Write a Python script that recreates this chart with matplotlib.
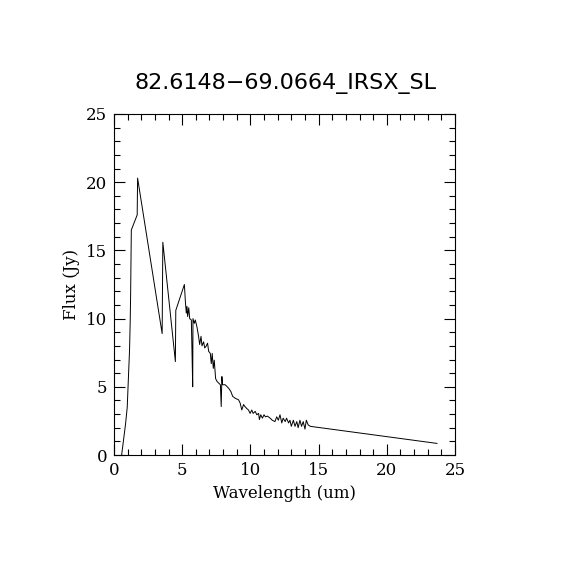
import matplotlib
matplotlib.use("Agg")
import matplotlib.pyplot as plt
from matplotlib.ticker import MultipleLocator

# Spectrum
wavelength = [0.56, 0.85, 0.97, 1.05, 1.14, 1.19, 1.22, 1.27, 1.70, 1.73, 3.53, 3.58,
              4.50, 4.53, 5.16, 5.23, 5.30, 5.35, 5.40, 5.48, 5.55, 5.67, 5.72, 5.77,
              5.79, 5.89, 5.96, 6.08, 6.20, 6.28, 6.38, 6.45, 6.57, 6.65, 6.74, 6.86,
              6.94, 7.06, 7.13, 7.20, 7.28, 7.35, 7.45, 7.55, 7.70, 7.80, 7.86, 7.91,
              7.96, 8.15, 8.40, 8.57, 8.70, 8.90, 9.13, 9.25, 9.37, 9.50, 9.60, 9.74,
              9.86, 9.98, 10.10, 10.20, 10.35, 10.47, 10.60, 10.66, 10.76, 10.88, 11.00,
              11.10, 11.25, 11.45, 11.60, 11.80, 11.93, 12.05, 12.17, 12.30, 12.40,
              12.55, 12.65, 12.80, 12.90, 13.00, 13.15, 13.27, 13.40, 13.50, 13.63,
              13.75, 13.87, 14.00, 14.10, 14.24, 14.40, 23.68]
flux = [0.0, 2.3, 3.5, 5.5, 7.7, 9.9, 11.85, 16.5, 17.6, 20.3, 8.9, 15.6,
        6.85, 10.6, 12.5, 11.3, 10.4, 10.9, 10.15, 10.8, 10.0, 9.9, 7.5, 5.0,
        10.0, 9.65, 9.9, 9.4, 8.7, 8.1, 8.7, 8.0, 8.3, 7.85, 7.95, 8.2,
        7.6, 7.45, 6.7, 7.45, 6.35, 6.95, 5.6, 5.4, 5.25, 5.15, 3.55, 5.75,
        5.15, 5.15, 4.9, 4.65, 4.3, 4.15, 4.05, 3.8, 3.3, 3.7, 3.55, 3.4,
        3.3, 3.05, 3.3, 3.05, 3.2, 2.95, 3.05, 2.6, 2.95, 2.7, 2.95,
        2.8, 2.85, 2.7, 2.55, 2.45, 2.8, 2.55, 2.95, 2.35, 2.7,
        2.45, 2.7, 2.35, 2.55, 2.1, 2.55, 2.1, 2.45, 2.0, 2.55,
        2.1, 2.45, 1.9, 2.55, 2.2, 2.1, 0.85]

title = "82.6148\u221269.0664_IRSX_SL"
xlabel = "Wavelength (um)"
ylabel = "Flux (Jy)"

fig = plt.figure(figsize=(5.7, 5.7), dpi=100)
ax = fig.add_axes([114/570, 1-455/570, 341/570, 341/570])
ax.plot(wavelength, flux, color="black", linewidth=0.7)
ax.set_xlim(0, 25)
ax.set_ylim(0, 25)
ax.xaxis.set_major_locator(MultipleLocator(5))
ax.xaxis.set_minor_locator(MultipleLocator(1))
ax.yaxis.set_major_locator(MultipleLocator(5))
ax.yaxis.set_minor_locator(MultipleLocator(1))
ax.tick_params(which="both", direction="in", top=True, right=True, width=0.8,
               labelsize=12, pad=5)
ax.tick_params(which="major", length=8)
ax.tick_params(which="minor", length=4)
for lab in ax.get_xticklabels() + ax.get_yticklabels():
    lab.set_family("DejaVu Serif")
for s in ax.spines.values():
    s.set_linewidth(0.8)
ax.set_xlabel(xlabel, family="DejaVu Serif", fontsize=12, labelpad=4)
ax.set_ylabel(ylabel, family="DejaVu Serif", fontsize=12, labelpad=4)
fig.text(285/570, 1-83/570, title, ha="center", va="center", fontsize=16,
         family="DejaVu Sans")

fig.savefig("out.png", dpi=100)
